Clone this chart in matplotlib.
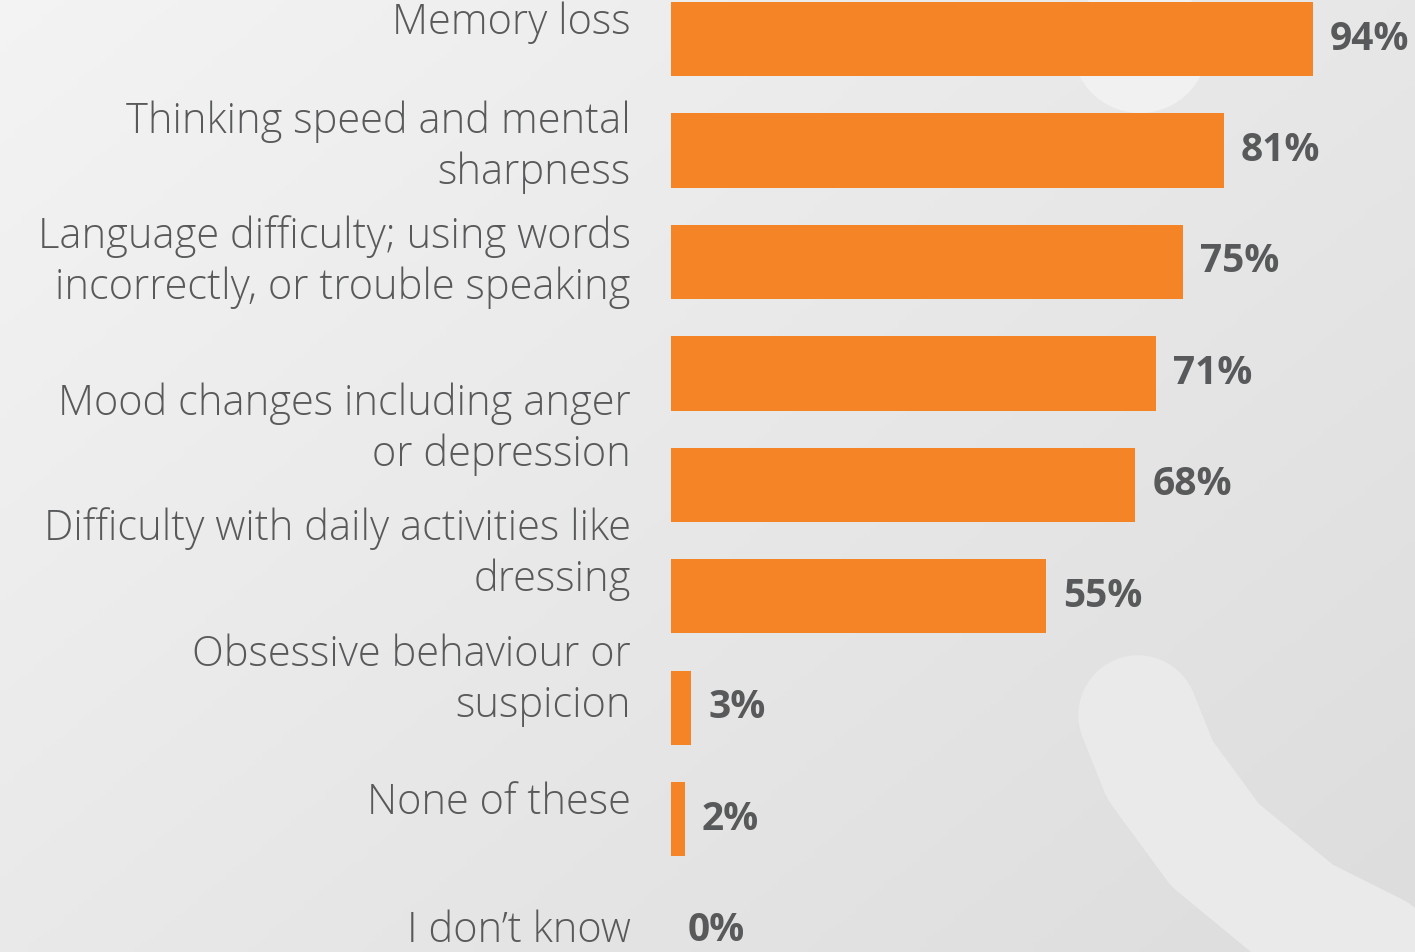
import numpy as np
import matplotlib.pyplot as plt
from matplotlib.patches import Circle

# data
categories = [
    "Memory loss",
    "Thinking speed and mental\nsharpness",
    "Language difficulty; using words\nincorrectly, or trouble speaking",
    "Mood changes including anger\nor depression",
    "Difficulty with daily activities like\ndressing",
    "Obsessive behaviour or\nsuspicion",
    "None of these",
    "I don\u2019t know",
]
# the chart has one more bar than labels (the 71% row has no label of its own)
values = [94, 81, 75, 71, 68, 55, 3, 2, 0]
value_labels = ["94%", "81%", "75%", "71%", "68%", "55%", "3%", "2%", "0%"]
# label positions (in bar-index units) as placed on the original slide
label_pos = [-0.15, 0.97, 2.0, 3.5, 4.62, 5.75, 6.85, 8.0]

orange = "#F58426"
grey = "#58595B"

W, H = 1415, 952
fig = plt.figure(figsize=(W / 100, H / 100), dpi=100)

# background gradient + faint decorative shapes
bg = fig.add_axes([0, 0, 1, 1])
xx, yy = np.meshgrid(np.linspace(0, 1, 200), np.linspace(0, 1, 200))
t = 0.55 * xx + 0.45 * yy
lvl = 0.955 - 0.09 * t
bg.imshow(np.dstack([lvl, lvl, lvl]), extent=(0, W, H, 0), aspect="auto")
bg.add_patch(Circle((1140, 45), 68, color="#f1f1f1", lw=0))
bg.plot([1138, 1160, 1215, 1300, 1400, 1480], [715, 770, 845, 915, 965, 990],
        color="#eaeaea", lw=86, solid_capstyle="round")
bg.set_xlim(0, W)
bg.set_ylim(H, 0)
bg.axis("off")

ax = fig.add_axes([671 / W, 0, 1 - 671 / W, 1])
ax.patch.set_alpha(0)
y = np.arange(len(values))
ax.barh(y, values, height=0.665, color=orange)
ax.set_xlim(0, 109)
ax.set_ylim(8.19, -0.35)
ax.axis("off")

for yi, v, lab in zip(y, values, value_labels):
    ax.text(v + 2.5, yi, lab, va="center", ha="left", fontsize=28,
            fontweight="bold", color=grey, family="Open Sans")

for pos, cat in zip(label_pos, categories):
    ax.text(-5.9, pos, cat, va="center", ha="right", fontsize=30,
            fontweight="light", color=grey, family="Open Sans", linespacing=1.27)

fig.savefig("out.png", dpi=100)
